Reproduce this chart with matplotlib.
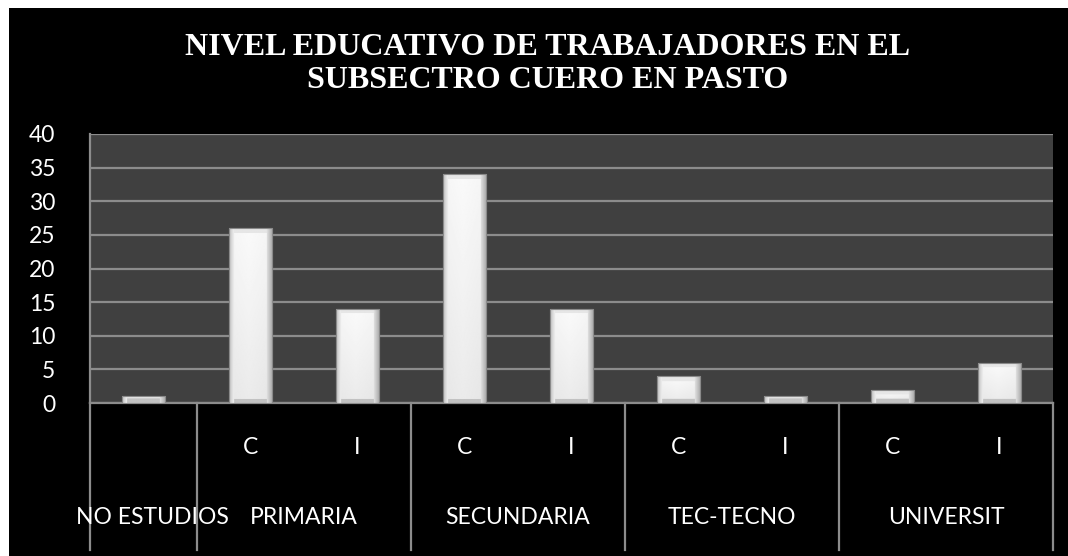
import matplotlib
matplotlib.use("Agg")
import matplotlib.pyplot as plt
import numpy as np
from matplotlib.patches import Rectangle

# Chart data
groups = ["NO ESTUDIOS", "PRIMARIA", "SECUNDARIA", "TEC-TECNO", "UNIVERSIT"]
group_sizes = [1, 2, 2, 2, 2]
sub_labels = ["", "C", "I", "C", "I", "C", "I", "C", "I"]
values = [1, 26, 14, 34, 14, 4, 1, 2, 6]
yticks = [0, 5, 10, 15, 20, 25, 30, 35, 40]
title = "NIVEL EDUCATIVO DE TRABAJADORES EN EL\nSUBSECTRO CUERO EN PASTO"

LABEL_FONT = "Lato"
LABEL_SIZE = 16.5

W, H = 1068, 556
fig = plt.figure(figsize=(W / 100, H / 100), dpi=100)
fig.patch.set_facecolor("white")
# black chart background with thin white margin on the top/left
fig.add_artist(Rectangle((9 / W, 0), 1 - 9 / W, 1 - 8 / H, transform=fig.transFigure,
                         facecolor="black", edgecolor="none", zorder=0))

ax_l, ax_r, ax_t, ax_b = 90, 1053, 134, 403
ax = fig.add_axes([ax_l / W, 1 - ax_b / H, (ax_r - ax_l) / W, (ax_b - ax_t) / H])
ax.set_facecolor("#404040")

x = np.arange(len(values))
ax.set_xlim(-0.5, len(values) - 0.5)
ax.set_ylim(0, 40)
ax.set_yticks(yticks)
ax.set_xticks([])
ax.yaxis.grid(True, color="#8c8c8c", linewidth=1.6)
ax.set_axisbelow(True)
ax.tick_params(axis="y", length=0, pad=25, labelcolor="white", labelsize=LABEL_SIZE)
for lab in ax.get_yticklabels():
    lab.set_family(LABEL_FONT)
for side in ["top", "right"]:
    ax.spines[side].set_visible(False)
ax.spines["left"].set_color("#8c8c8c")
ax.spines["bottom"].set_color("#8c8c8c")
ax.spines["left"].set_linewidth(1.6)
ax.spines["bottom"].set_linewidth(1.6)

# bars with a bevelled white gradient
bar_w = 0.4
px_per_x = (ax_r - ax_l) / len(values)
px_per_y = (ax_b - ax_t) / 40
for xi, v in zip(x, values):
    rect = Rectangle((xi - bar_w / 2, 0), bar_w, v, facecolor="#e0e0e0",
                     edgecolor="#7a7a7a", linewidth=0.8, zorder=3)
    ax.add_patch(rect)
    nw = max(int(bar_w * px_per_x), 2)
    nh = max(int(v * px_per_y), 2)
    cols = np.arange(nw)
    rows = np.arange(nh)
    dl = cols[None, :] + 0.5
    dr = nw - cols[None, :] - 0.5
    dt = rows[:, None] + 0.5
    db = nh - rows[:, None] - 0.5
    body = 0.98 - 0.06 * (rows[:, None] / max(nh - 1, 1)) - 0.04 * np.abs(cols[None, :] - nw * 0.45) / nw
    img = body * np.ones((nh, nw))
    bev = 5
    img = np.where(dl < bev, 0.74 + 0.04 * dl, img)
    img = np.where(dr < bev, 0.68 + 0.04 * dr, img)
    img = np.where((dt < bev) & (dl >= bev) & (dr >= bev), 0.9, img)
    img = np.where((db < 4) & (dl >= bev) & (dr >= bev), 0.76, img)
    im = ax.imshow(img, cmap="gray", vmin=0, vmax=1, aspect="auto",
                   extent=(xi - bar_w / 2, xi + bar_w / 2, 0, v), zorder=4,
                   interpolation="bilinear")
    im.set_clip_path(rect)
    ax.add_patch(Rectangle((xi - bar_w / 2, 0), bar_w, v, facecolor="none",
                           edgecolor="#8a8a8a", linewidth=0.8, zorder=5))

# two-level category axis below the plot
depth = -(550 - ax_b) / (ax_b - ax_t)
trans = ax.get_xaxis_transform()
edges = np.concatenate([[0], np.cumsum(group_sizes)]) - 0.5
for e in edges:
    ax.plot([e, e], [0, depth], transform=trans, color="#8c8c8c",
            linewidth=1.6, clip_on=False, zorder=2)

sub_y = -(447 - ax_b) / (ax_b - ax_t)
grp_y = -(518 - ax_b) / (ax_b - ax_t)
for xi, s in zip(x, sub_labels):
    ax.text(xi, sub_y, s, transform=trans, ha="center", va="center",
            color="white", fontsize=LABEL_SIZE, family=LABEL_FONT)
for i, g in enumerate(groups):
    cx = (edges[i] + edges[i + 1]) / 2
    if i == 0:
        cx += 0.08  # first label is nudged right to stay inside the chart
    ax.text(cx, grp_y, g, transform=trans, ha="center", va="center",
            color="white", fontsize=LABEL_SIZE, family=LABEL_FONT)

fig.text(548 / W, 1 - 64 / H, title, ha="center", va="center", color="white",
         fontsize=23, fontweight="bold", family="Liberation Serif",
         linespacing=1.2)

fig.savefig("out.png", dpi=100, facecolor=fig.get_facecolor())
